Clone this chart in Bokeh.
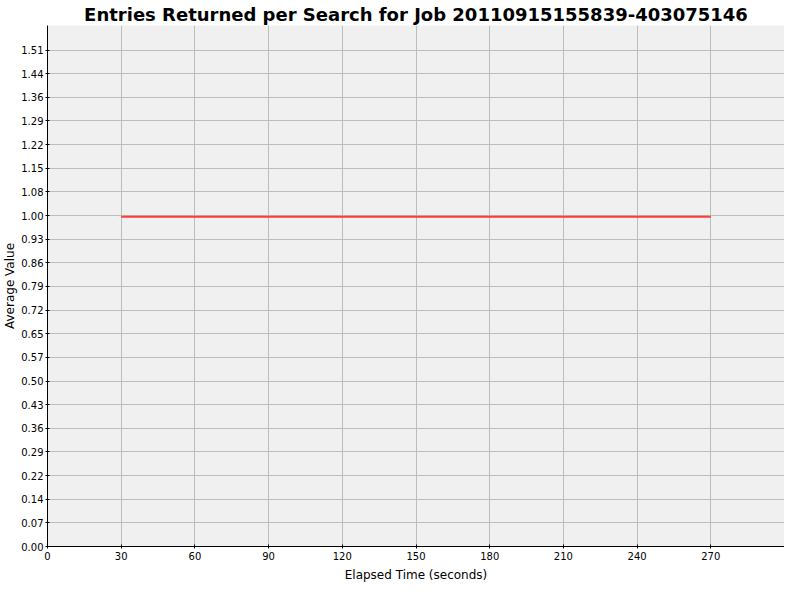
from bokeh.plotting import figure
from bokeh.models import FixedTicker, Range1d, ColumnDataSource
from bokeh.embed import file_html
from bokeh.resources import INLINE

# Data
elapsed_time = [30, 60, 90, 120, 150, 180, 210, 240, 270]
average_value = [1.0, 1.0, 1.0, 1.0, 1.0, 1.0, 1.0, 1.0, 1.0]

x_ticks = [0, 30, 60, 90, 120, 150, 180, 210, 240, 270]
y_ticks = [0.0, 0.0717, 0.1434, 0.2151, 0.2868, 0.3585, 0.4302, 0.5019, 0.5736,
           0.6453, 0.717, 0.7887, 0.8604, 0.9321, 1.0038, 1.0755, 1.1472,
           1.2189, 1.2906, 1.3623, 1.434, 1.5057]
y_tick_labels = ["0.00", "0.07", "0.14", "0.22", "0.29", "0.36", "0.43", "0.50",
                 "0.57", "0.65", "0.72", "0.79", "0.86", "0.93", "1.00", "1.08",
                 "1.15", "1.22", "1.29", "1.36", "1.44", "1.51"]

title_text = "Entries Returned per Search for Job 20110915155839-403075146"

FONT = "DejaVu Sans"

p = figure(width=784, height=584, output_backend="svg", toolbar_location=None,
           x_range=Range1d(0, 300), y_range=Range1d(0, 1.58),
           min_border_left=0, min_border_right=0, min_border_top=0, min_border_bottom=0)

p.background_fill_color = "#f0f0f0"
p.border_fill_color = "white"
p.outline_line_color = None

p.title.text = title_text
p.title.align = "center"
p.title.text_font = FONT
p.title.text_font_size = "18px"
p.title.text_font_style = "bold"
p.title.text_color = "black"
p.title.standoff = 2
p.title.offset = 0

src = ColumnDataSource(data=dict(x=elapsed_time, y=average_value))
p.line("x", "y", source=src, line_color="#ff3c3c", line_width=2)

p.xaxis.ticker = FixedTicker(ticks=x_ticks)
p.yaxis.ticker = FixedTicker(ticks=y_ticks)
p.yaxis.major_label_overrides = {t: l for t, l in zip(y_ticks, y_tick_labels)}

p.xaxis.axis_label = "Elapsed Time (seconds)"
p.yaxis.axis_label = "Average Value"

for ax in (p.xaxis, p.yaxis):
    ax.axis_label_text_font = FONT
    ax.axis_label_text_font_size = "12px"
    ax.axis_label_text_font_style = "normal"
    ax.axis_label_text_color = "black"
    ax.major_label_text_font = FONT
    ax.major_label_text_font_size = "10px"
    ax.major_label_text_color = "black"
    ax.axis_line_color = "black"
    ax.axis_line_width = 1
    ax.major_tick_line_color = "black"
    ax.major_tick_in = 2
    ax.major_tick_out = 2
    ax.minor_tick_line_color = None
    ax.major_label_standoff = 3

p.yaxis.axis_label_standoff = 1
p.yaxis.major_label_standoff = 2
p.xaxis.axis_label_standoff = 5

p.xgrid.ticker = FixedTicker(ticks=x_ticks)
p.ygrid.ticker = FixedTicker(ticks=y_ticks)
p.grid.grid_line_color = "#bdbdbd"
p.grid.grid_line_width = 1

open("out.html", "w").write(file_html(p, INLINE))
